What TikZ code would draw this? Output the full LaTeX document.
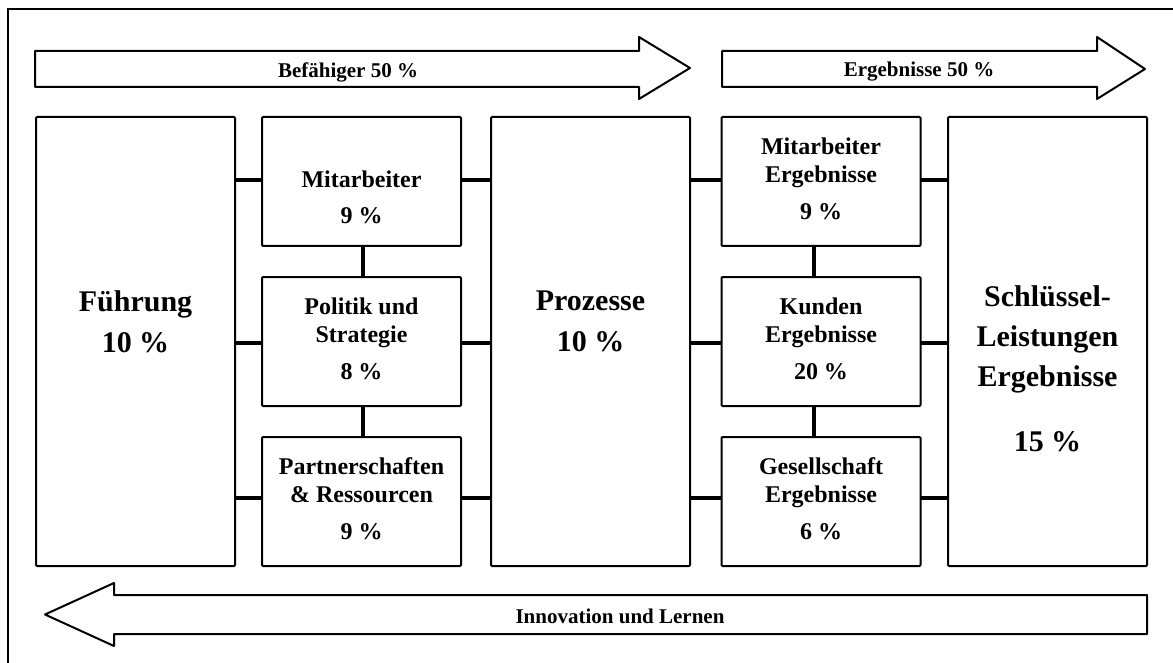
\documentclass[tikz,border=0pt]{standalone}
\usepackage{fontspec}
\setmainfont{Liberation Serif}
\begin{document}
\begin{tikzpicture}[x=1pt,y=-1pt,
  box/.style={draw, line width=2pt, rounded corners=1pt, inner sep=0pt, outer sep=0pt, minimum width=199pt},
  smallbox/.style={box, minimum height=129pt},
  tallbox/.style={box, minimum height=449pt},
  conn/.style={line width=4pt},
  bigarrow/.style={draw, line width=2pt, line join=round},
  stxt/.style={align=center, inner sep=0pt, font=\bfseries\fontsize{24}{28}\selectfont},
  btxt/.style={align=center, inner sep=0pt, font=\bfseries\fontsize{30}{40}\selectfont},
  atxt/.style={inner sep=0pt, font=\bfseries\fontsize{21}{25}\selectfont}]
\useasboundingbox (0,0) rectangle (1173,663);
\clip (0,0) rectangle (1173,663);
% outer frame
\draw[line width=2pt] (8,9.5) rectangle (1200,700);
% arrows
\draw[bigarrow] (35,51) -- (639,51) -- (639,37) -- (690,68) -- (639,99) -- (639,87) -- (35,87) -- cycle;
\draw[bigarrow] (722,51) -- (1097,51) -- (1097,37) -- (1145,69) -- (1097,99) -- (1097,87) -- (722,87) -- cycle;
\draw[bigarrow] (1147,595) -- (114,595) -- (114,583) -- (45,614.5) -- (114,646) -- (114,634) -- (1147,634) -- cycle;
\node[atxt] (befT) at (348,72) {Befähiger 50 \%};
\node[atxt] (ergT) at (919,72) {Ergebnisse 50 \%};
\node[atxt] (innT) at (620,616) {Innovation und Lernen};
% boxes
\node[tallbox] (fue) at (135.5,341.5) {};
\node[tallbox] (pro) at (590.5,341.5) {};
\node[tallbox] (sch) at (1047.5,341.5) {};
\node[smallbox] (mit) at (361.5,181.5) {};
\node[smallbox] (pol) at (361.5,341.5) {};
\node[smallbox] (par) at (361.5,501.5) {};
\node[smallbox] (mer) at (821,181.5) {};
\node[smallbox] (kun) at (821,341.5) {};
\node[smallbox] (ges) at (821,501.5) {};
% texts
\node[btxt] (fueT) at (135.5,321.5) {Führung\\[1pt]10 \%};
\node[btxt] (proT) at (590.5,321.5) {Prozesse\\[1pt]10 \%};
\node[btxt] (schT) at (1047.5,368.5) {Schlüssel-\\Leistungen\\Ergebnisse\\[25pt]15 \%};
\node[stxt] (mitT) at (361.5,197) {Mitarbeiter\\[8pt]9 \%};
\node[stxt] (polT) at (361.5,338.4) {Politik und\\Strategie\\[9pt]8 \%};
\node[stxt] (parT) at (361.5,498.4) {Partnerschaften\\\& Ressourcen\\[9pt]9 \%};
\node[stxt] (merT) at (821,178.4) {Mitarbeiter\\Ergebnisse\\[9pt]9 \%};
\node[stxt] (kunT) at (821,338.4) {Kunden\\Ergebnisse\\[9pt]20 \%};
\node[stxt] (gesT) at (821,498.4) {Gesellschaft\\Ergebnisse\\[9pt]6 \%};
% connectors
\draw[conn] (fue.east |- 0,180) -- (mit.west |- 0,180);
\draw[conn] (fue.east |- 0,343) -- (pol.west |- 0,343);
\draw[conn] (fue.east |- 0,498) -- (par.west |- 0,498);
\draw[conn] (mit.east |- 0,180) -- (pro.west |- 0,180);
\draw[conn] (pol.east |- 0,343) -- (pro.west |- 0,343);
\draw[conn] (par.east |- 0,498) -- (pro.west |- 0,498);
\draw[conn] (pro.east |- 0,180) -- (mer.west |- 0,180);
\draw[conn] (pro.east |- 0,343) -- (kun.west |- 0,343);
\draw[conn] (pro.east |- 0,498) -- (ges.west |- 0,498);
\draw[conn] (mer.east |- 0,180) -- (sch.west |- 0,180);
\draw[conn] (kun.east |- 0,343) -- (sch.west |- 0,343);
\draw[conn] (ges.east |- 0,498) -- (sch.west |- 0,498);
\draw[conn] (mit.south -| 363,0) -- (pol.north -| 363,0);
\draw[conn] (pol.south -| 363,0) -- (par.north -| 363,0);
\draw[conn] (mer.south -| 814,0) -- (kun.north -| 814,0);
\draw[conn] (kun.south -| 814,0) -- (ges.north -| 814,0);
\end{tikzpicture}
\end{document}
